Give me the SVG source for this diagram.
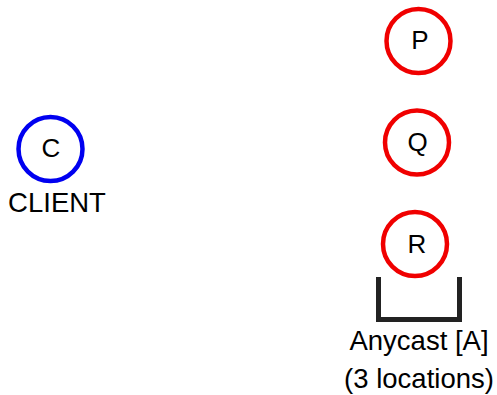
<svg xmlns="http://www.w3.org/2000/svg" width="497" height="395" viewBox="0 0 497 395">
  <style>
    text { font-family: "Liberation Sans", Arial, sans-serif; fill: #000; text-anchor: middle; }
    .node-label { font-size: 26px; }
    .caption { font-size: 27.5px; }
    .client { fill: #fff; stroke: #0000f0; stroke-width: 4.5; }
    .server { fill: #fff; stroke: #f00000; stroke-width: 4.5; }
    .bracket { fill: none; stroke: #222; stroke-width: 5; }
  </style>
  <rect width="497" height="395" fill="#fff"/>

  <g id="node-c">
    <circle class="client" cx="50.5" cy="149" r="32"/>
    <text class="node-label" x="51" y="157">C</text>
    <text class="caption" x="57" y="212">CLIENT</text>
  </g>

  <g id="node-p">
    <circle class="server" cx="418.5" cy="41" r="32"/>
    <text class="node-label" x="420" y="49">P</text>
  </g>

  <g id="node-q">
    <circle class="server" cx="417" cy="142.5" r="32"/>
    <text class="node-label" x="417.5" y="151">Q</text>
  </g>

  <g id="node-r">
    <circle class="server" cx="415" cy="244" r="32"/>
    <text class="node-label" x="417" y="253">R</text>
  </g>

  <g id="anycast-group">
    <path class="bracket" d="M378.5,277 V319.5 H459.5 V277"/>
    <text class="caption" x="419" y="350">Anycast [A]</text>
    <text class="caption" x="419" y="388">(3 locations)</text>
  </g>
</svg>
